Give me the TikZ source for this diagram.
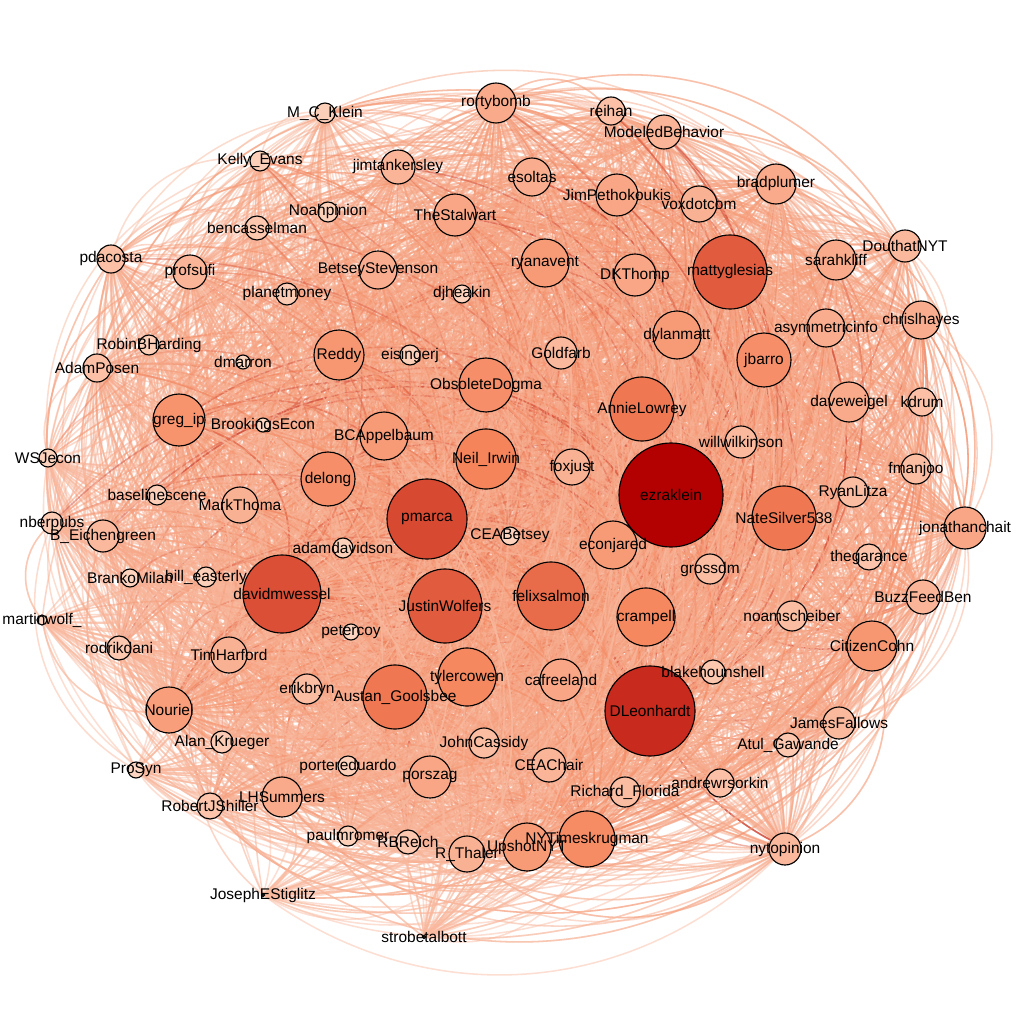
\documentclass[tikz,border=0pt]{standalone}
\usepackage{fontspec}
\setmainfont{Liberation Sans}
\pgfdeclarelayer{bg}
\pgfdeclarelayer{edges}
\pgfdeclarelayer{labels}
\pgfsetlayers{bg,edges,main,labels}
\definecolor{cLight}{HTML}{FDD6C2}
\definecolor{cMid}{HTML}{F5845A}
\definecolor{cDark}{HTML}{B30000}
\definecolor{cEdge}{HTML}{F39470}
\tikzset{
  nd/.style={circle, draw=black, line width=0.8pt, inner sep=0pt, outer sep=0pt},
  lbl/.style={font=\fontsize{11}{13}\selectfont, text=black, inner sep=0pt},
  edg/.style={line width=1.1pt, opacity=0.45},
}
\newcount\wtot
\begin{document}
\begin{tikzpicture}[x=0.025cm,y=-0.025cm]
\begin{pgfonlayer}{bg}
\fill[white] (0,0) rectangle (1024,1024);
\end{pgfonlayer}
\useasboundingbox (0,0) rectangle (1024,1024);
\global\wtot=0
\foreach \nm/\x/\y/\r/\lab [count=\i] in {
MCKlein/325/113/10/M\_C\_Klein,
KellyEvans/260/161/10/Kelly\_Evans,
Noahpinion/328/212/10/Noahpinion,
bencasselman/257/228/12/bencasselman,
pdacosta/111/259/14/pdacosta,
profsufi/190/272/17/profsufi,
planetmoney/287/294/11/planetmoney,
RobinBHarding/149/345/10/RobinBHarding,
AdamPosen/97/368/14/AdamPosen,
dmarron/243/362/7/dmarron,
rortybomb/496/103/20/rortybomb,
reihan/611/111/14/reihan,
ModeledBehavior/664/132/17/ModeledBehavior,
jimtankersley/398/167/17/jimtankersley,
esoltas/532/177/19/esoltas,
JimPethokoukis/617/195/21/JimPethokoukis,
TheStalwart/455/215/21/TheStalwart,
voxdotcom/699/204/18/voxdotcom,
bradplumer/776/184/20/bradplumer,
BetseyStevenson/378/270/19/BetseyStevenson,
djheakin/462/294/9/djheakin,
ryanavent/545/263/24/ryanavent,
DKThomp/635/275/21/DKThomp,
mattyglesias/730/272/37/mattyglesias,
sarahkliff/836/260/20/sarahkliff,
DouthatNYT/905/246/16/DouthatNYT,
chrislhayes/921/320/19/chrislhayes,
asymmetricinfo/826/328/19/asymmetricinfo,
jbarro/764/360/27/jbarro,
dylanmatt/677/335/24/dylanmatt,
Reddy/339/355/25/Reddy,
eisingerj/410/355/10/eisingerj,
Goldfarb/561/353/16/Goldfarb,
ObsoleteDogma/486/385/27/ObsoleteDogma,
AnnieLowrey/642/409/32/AnnieLowrey,
gregip/179/420/26/greg\_ip,
BrookingsEcon/263/425/7/BrookingsEcon,
BCAppelbaum/384/436/24/BCAppelbaum,
WSJecon/48/458/9/WSJecon,
daveweigel/849/402/20/daveweigel,
kdrum/922/402/14/kdrum,
willwilkinson/741/442/16/willwilkinson,
NeilIrwin/486/459/30/Neil\_Irwin,
foxjust/572/467/18/foxjust,
ezraklein/671/495/52/ezraklein,
fmanjoo/916/469/15/fmanjoo,
RyanLitza/853/492/15/RyanLitza,
delong/328/479/27/delong,
baselinescene/157/495/10/baselinescene,
MarkThoma/240/505/18/MarkThoma,
pmarca/427/519/40/pmarca,
NateSilver538/784/518/32/NateSilver538,
jonathanchait/965/528/21/jonathanchait,
nberpubs/52/523/11/nberpubs,
BEichengreen/103/536/16/B\_Eichengreen,
CEABetsey/510/536/9/CEABetsey,
adamdavidson/343/548/10/adamdavidson,
econjared/613/545/24/econjared,
thegarance/869/557/13/thegarance,
grossdm/710/569/15/grossdm,
BrankoMilan/130/578/9/BrankoMilan,
billeasterly/206/577/10/bill\_easterly,
davidmwessel/282/594/39/davidmwessel,
JustinWolfers/445/606/37/JustinWolfers,
felixsalmon/551/596/34/felixsalmon,
crampell/646/617/29/crampell,
BuzzFeedBen/923/597/17/BuzzFeedBen,
noamscheiber/792/616/15/noamscheiber,
martinwolf/42/620/5/martinwolf\_,
petercoy/351/632/8/petercoy,
CitizenCohn/872/646/25/CitizenCohn,
rodrikdani/119/648/12/rodrikdani,
TimHarford/229/655/18/TimHarford,
blakehounshell/713/672/12/blakehounshell,
DLeonhardt/650/711/45/DLeonhardt,
tylercowen/467/677/29/tylercowen,
cafreeland/561/680/21/cafreeland,
AustanGoolsbee/395/697/32/Austan\_Goolsbee,
erikbryn/307/689/15/erikbryn,
Nouriel/169/710/23/Nouriel,
AlanKrueger/222/742/11/Alan\_Krueger,
ProSyn/136/770/8/ProSyn,
portereduardo/348/766/10/portereduardo,
JohnCassidy/484/743/15/JohnCassidy,
CEAChair/549/765/17/CEAChair,
porszag/430/777/21/porszag,
AtulGawande/788/745/12/Atul\_Gawande,
JamesFallows/839/723/16/JamesFallows,
RichardFlorida/625/792/15/Richard\_Florida,
andrewrsorkin/720/783/14/andrewrsorkin,
LHSummers/282/797/20/LHSummers,
RobertJShiller/210/806/13/RobertJShiller,
paulmromer/348/836/10/paulmromer,
RBReich/408/842/12/RBReich,
RThaler/467/854/18/R\_Thaler,
UpshotNYT/527/847/24/UpshotNYT,
NYTimeskrugman/587/839/28/NYTimeskrugman,
nytopinion/785/849/16/nytopinion,
JosephEStiglitz/263/895/1.5/JosephEStiglitz,
strobetalbott/424/937/1.5/strobetalbott}{
  \ifdim \r pt>30pt
    \pgfmathtruncatemacro\p{min(100,(\r-30)/22*100)}
    \xglobal\colorlet{c\i}{cDark!\p!cMid}
  \else
    \pgfmathtruncatemacro\p{max(0,(\r-8)/22*100)}
    \xglobal\colorlet{c\i}{cMid!\p!cLight}
  \fi
  \node[nd, minimum size={\r*0.05cm}, fill=c\i, alias=n\i] (\nm) at (\x,\y) {};
  \begin{pgfonlayer}{labels}
    \node[lbl] (\nm-t) at (\x,\y) {\lab};
  \end{pgfonlayer}
  \pgfmathtruncatemacro\w{max(1,\r-6)}
  \foreach \k in {1,...,\w}{%
    \global\advance\wtot by 1\relax
    \expandafter\xdef\csname wt\the\wtot\endcsname{\i}}
}
\begin{pgfonlayer}{edges}
\pgfmathsetseed{4242}
\foreach \i in {1,...,100}{
  \foreach \k in {1,...,52}{
    \pgfmathrandominteger{\m}{1}{\the\wtot}
    \edef\j{\csname wt\m\endcsname}
    \ifnum\j=\i\relax\else
      \draw[edg, draw=c\i!55!cEdge] (n\i) to[bend right=40] (n\j);
    \fi
  }
}
\end{pgfonlayer}
\end{tikzpicture}
\end{document}
